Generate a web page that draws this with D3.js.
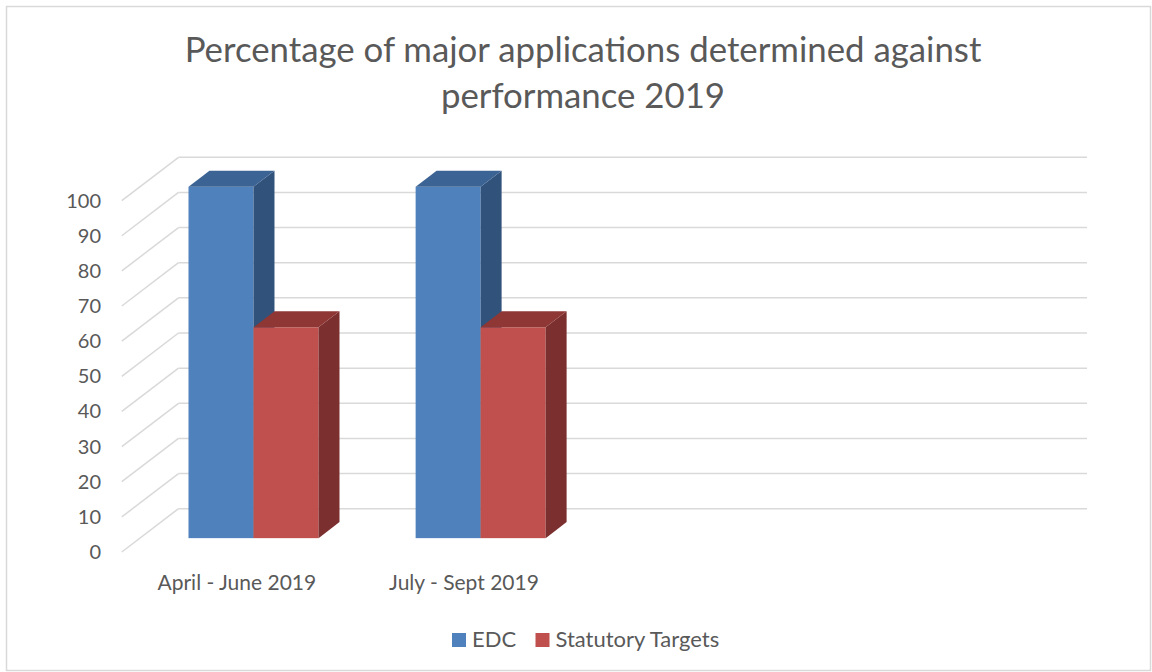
<!DOCTYPE html>
<html>
<head>
<meta charset="utf-8">
<script src="https://cdn.jsdelivr.net/npm/d3@7"></script>
<style>
  body { margin: 0; background: #fff; }
  text { font-family: Lato, "Open Sans", sans-serif; fill: #595959; }
</style>
</head>
<body>
<script>
// data
var categories = ["April - June 2019", "July - Sept 2019", "", " "];
var seriesNames = ["EDC", "Statutory Targets"];
var edcValues = [100, 100, null, null];
var targetValues = [60, 60, null, null];
var yTicks = [0, 10, 20, 30, 40, 50, 60, 70, 80, 90, 100];

var colors = {
    "EDC": { front: "#4f81bd", side: "#31527b", top: "#3b6393" },
    "Statutory Targets": { front: "#c0504d", side: "#7b2f2e", top: "#8f3735" }
};

var width = 1152, height = 672;

var svg = d3.select('body')
    .append('svg')
    .attr('width', width)
    .attr('height', height);

// chart border
svg.append('rect')
    .attr('x', 6.5).attr('y', 6.5)
    .attr('width', width - 8).attr('height', height - 8)
    .style('fill', '#fff')
    .style('stroke', '#d9d9d9')
    .style('stroke-width', 1.5);

// title
var title = svg.append('text')
    .attr('text-anchor', 'middle')
    .style('font-size', '35px')
    .style('font-weight', 400);
var line1 = title.append('tspan').attr('x', 583).attr('y', 62).text('Percentage of major applications determined against');
title.append('tspan').attr('x', 583).attr('y', 108).text('performance 2019');
// make first line about as wide as the original (~797px)
var w1 = line1.node().getComputedTextLength();
if (w1 > 0) title.style('font-size', (35 * 797 / w1) + 'px');

// back wall plane + depth offset (3d look)
var backLeft = 178.5, backRight = 1087;
var depthX = -56.7, depthY = 43.3;   // back wall -> front edge
var barFront = 0.68, barBack = 0.31; // fraction of depth for bar faces

var y = d3.scaleLinear().domain([0, 100]).range([508.7, 157.3]);

var x = d3.scaleBand().domain(categories).range([backLeft, backRight]);
var xSub = d3.scaleBand().domain(seriesNames).range([0, x.bandwidth()]).paddingOuter(0.747);

// gridlines
var grid = svg.append('g');
yTicks.forEach(function(t){
    grid.append('line')
        .attr('x1', backLeft).attr('x2', backRight)
        .attr('y1', y(t)).attr('y2', y(t))
        .style('stroke', '#d9d9d9').style('stroke-width', 1.5);
    grid.append('line')
        .attr('x1', backLeft).attr('y1', y(t))
        .attr('x2', backLeft + depthX).attr('y2', y(t) + depthY)
        .style('stroke', '#d9d9d9').style('stroke-width', 1.5);
});

// y axis labels
svg.append('g').selectAll('text')
    .data(yTicks)
    .enter().append('text')
    .attr('x', 101)
    .attr('y', function(d){ return y(d) + depthY; })
    .attr('dy', '0.35em')
    .attr('text-anchor', 'end')
    .style('font-size', '20px')
    .text(function(d){ return d; });

// category labels
svg.append('g').selectAll('text')
    .data(categories)
    .enter().append('text')
    .attr('x', function(d){ return x(d) + x.bandwidth() / 2 + depthX + 1.5; })
    .attr('y', 590)
    .attr('text-anchor', 'middle')
    .style('font-size', '21px')
    .text(function(d){ return d.trim(); });

// bars
var bars = [];
categories.forEach(function(c, i){
    bars.push({ cat: c, series: "EDC", value: edcValues[i] });
    bars.push({ cat: c, series: "Statutory Targets", value: targetValues[i] });
});

var fx = depthX * barFront, fy = depthY * barFront;
var bx = depthX * barBack, by = depthY * barBack;

var barG = svg.append('g').selectAll('g')
    .data(bars.filter(function(d){ return d.value != null; }))
    .enter().append('g');

function pts(arr){ return arr.map(function(p){ return p.join(','); }).join(' '); }

barG.each(function(d){
    var g = d3.select(this);
    var x0 = x(d.cat) + xSub(d.series), x1 = x0 + xSub.bandwidth();
    var yTop = y(d.value), yBot = y(0);
    // front face
    g.append('rect')
        .attr('x', x0 + fx).attr('y', yTop + fy)
        .attr('width', x1 - x0).attr('height', yBot - yTop)
        .style('fill', colors[d.series].front);
    // side face
    g.append('polygon')
        .attr('points', pts([
            [x1 + fx, yTop + fy], [x1 + bx, yTop + by],
            [x1 + bx, yBot + by], [x1 + fx, yBot + fy]
        ]))
        .style('fill', colors[d.series].side);
    // top face
    g.append('polygon')
        .attr('points', pts([
            [x0 + fx, yTop + fy], [x0 + bx, yTop + by],
            [x1 + bx, yTop + by], [x1 + fx, yTop + fy]
        ]))
        .style('fill', colors[d.series].top);
});

// legend
var legend = svg.append('g');
var legendItems = [
    { name: "EDC", x: 452 },
    { name: "Statutory Targets", x: 535.5 }
];
legendItems.forEach(function(item){
    legend.append('rect')
        .attr('x', item.x).attr('y', 633)
        .attr('width', 14).attr('height', 14)
        .style('fill', colors[item.name].front);
    legend.append('text')
        .attr('x', item.x + 20).attr('y', 647)
        .style('font-size', '22px')
        .text(item.name);
});
</script>
</body>
</html>
